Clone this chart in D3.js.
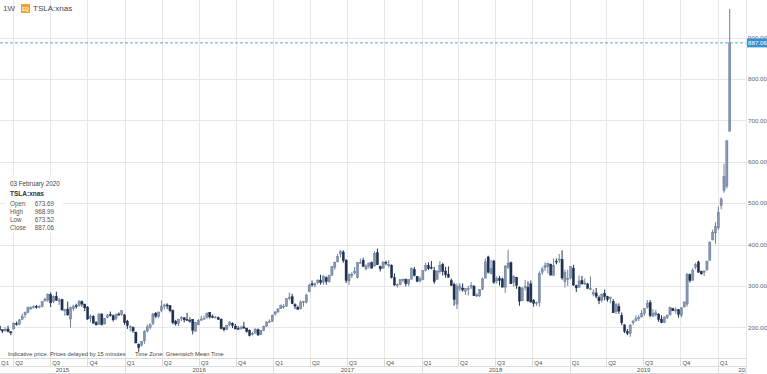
<!DOCTYPE html>
<html>
<head>
<meta charset="utf-8">
<script src="https://cdn.jsdelivr.net/npm/d3@7"></script>
<style>
  body { margin: 0; background: #fff; }
  svg { display: block; font-family: "Liberation Sans", Arial, sans-serif; }
</style>
</head>
<body>
<script>
// Weekly bars, first week starts Monday 2 March 2015
const firstWeek = "2015-03-02";
const symbol = "TSLA:xnas";
const interval = "1W";
const lastPrice = 887.06;
const priceTicks = [200, 300, 400, 500, 600, 700, 800, 900];

// [open, high, low, close] per week
const ohlc2015 = [
  [203,207,192,193],[194,195,186,191],[191,200,190,195],[196,204,188,190],[189,191,181,187],
  [196,212,195,210],[209,214,204,207],[207,220,205,218],[219,233,218,226],[230,238,223,236],
  [236,250,234,248],[247,251,242,247],[248,253,245,250],[251,254,245,250],[250,253,246,250],
  [250,263,248,262],[264,272,262,267],[266,282,261,280],[279,284,249,259],[262,277,258,274],
  [275,286,264,265],[263,271,254,266],[267,269,240,242],[240,245,228,242],[244,262,228,230],
  [220,250,199,248],[245,255,240,250],[252,257,245,250],[252,266,250,262],[262,265,250,256],
  [256,257,239,247],[249,251,218,220],[222,231,212,227],[227,229,209,210],[211,215,204,206],
  [207,234,206,232],[232,234,204,207],[208,223,207,221],[223,232,222,230],[231,238,226,228],
  [228,231,214,218],[221,234,217,230],[232,236,228,231],[231,241,228,240]
];
const ohlc2016 = [
  [230,232,206,211],[215,218,196,204],[201,205,190,202],[200,202,187,191],[188,190,162,162],
  [158,161,141,151],[157,167,154,166],[167,193,160,190],[191,207,187,201],[200,210,195,206],
  [209,235,205,232],[234,237,222,227],[226,238,222,237],[240,265,236,250],[251,257,243,254],
  [254,258,244,253],[253,254,236,240],[241,243,207,211],[215,218,204,208],[209,220,203,220],
  [221,227,215,223],[223,224,212,218],[219,235,216,218],[217,224,211,215],[219,220,183,193],
  [190,213,190,212],[206,220,205,216],[217,228,216,220],[221,228,219,222],[224,236,221,234],
  [236,237,221,225],[226,231,222,225],[225,227,222,225],[223,226,218,219],[220,221,195,197],
  [199,200,190,194],[195,206,193,205],[206,214,202,213],[210,212,198,204],[203,208,195,196],
  [197,203,194,196],[198,204,194,200],[201,213,197,198],[198,199,187,190],[193,195,178,180],
  [182,189,180,185],[186,197,185,196],[194,197,181,181],[182,193,181,193],[193,204,191,202],
  [202,214,202,213],[214,219,212,214]
];
const ohlc2017 = [
  [214,231,213,229],[232,239,228,237],[237,247,235,244],[245,255,244,252],[251,256,245,251],
  [251,270,249,269],[270,284,266,272],[274,281,256,257],[255,258,244,251],[248,252,243,243],
  [245,265,243,261],[261,264,250,263],[260,281,258,278],[286,305,285,302],[305,313,298,304],
  [302,308,297,305],[308,316,304,314],[314,327,303,308],[309,325,303,324],[320,323,303,310],
  [310,327,308,325],[326,347,324,347],[345,359,339,357],[358,377,357,371],[377,387,369,383],
  [382,386,356,361],[362,365,307,313],[312,330,302,327],[328,333,319,328],[331,346,328,335],
  [320,357,318,357],[357,366,354,357],[362,368,346,347],[341,352,338,348],[348,357,342,355],
  [356,359,342,343],[348,384,347,379],[380,390,350,351],[347,349,335,341],[343,360,341,356],
  [357,361,350,355],[351,362,344,351],[350,352,318,320],[320,330,300,302],[302,306,296,303],
  [303,316,301,315],[313,318,309,316],[315,318,299,306],[305,316,300,316],[316,344,316,343],
  [340,346,323,325],[323,324,309,311]
];
const ohlc2018 = [
  [312,323,308,317],[316,337,314,337],[338,356,335,350],[349,357,338,342],[345,360,340,343],
  [337,346,305,310],[316,338,315,335],[334,360,330,350],[352,356,325,335],[336,346,320,327],
  [328,347,320,321],[313,318,300,301],[304,308,252,267],[256,306,244,299],[294,307,287,300],
  [295,306,286,290],[287,294,278,294],[293,300,277,294],[297,309,292,301],[299,302,277,276],
  [277,283,273,278],[276,292,273,291],[292,320,290,317],[319,366,318,358],[370,373,330,333],
  [330,363,328,342],[360,363,305,309],[312,323,306,318],[318,324,301,313],[317,320,296,297],
  [297,350,283,348],[345,387,341,355],[356,359,305,305],[309,326,298,322],[321,322,293,301],
  [297,299,252,263],[264,297,263,295],[297,314,289,299],[297,311,261,264],[305,313,260,261],
  [265,268,250,258],[259,262,252,260],[260,335,250,330],[333,346,327,341],[344,357,336,350],
  [347,356,330,354],[352,354,326,326],[325,366,325,350],[360,366,352,358],[363,377,355,365],
  [364,386,315,319],[310,339,296,333]
];
const ohlc2019 = [
  [316,339,300,318],[319,348,316,347],[343,351,300,302],[301,303,285,295],[297,325,295,312],
  [313,324,303,305],[306,318,302,307],[305,307,292,294],[294,323,290,294],[280,292,275,284],
  [283,295,270,275],[272,277,256,264],[266,282,260,279],[282,291,265,274],[274,276,262,267],
  [270,274,258,273],[263,268,235,235],[238,259,232,255],[250,258,232,239],[228,236,205,211],
  [206,207,186,190],[190,196,181,185],[185,208,177,205],[211,218,206,214],[216,229,214,221],
  [223,230,215,224],[225,242,224,234],[233,246,228,245],[248,266,245,258],[260,266,224,228],
  [227,244,225,234],[230,242,226,235],[232,234,213,219],[220,229,210,211],[211,226,211,225],
  [224,231,220,229],[230,250,229,248],[246,247,239,240],[240,248,233,242],[243,244,223,231],
  [229,249,224,247],[249,263,248,261],[256,331,250,328],[328,330,308,313],[314,343,312,337],
  [345,356,340,352],[358,361,332,333],[335,337,327,329],[333,338,324,336],[339,361,336,359],
  [362,408,361,405],[411,436,410,430],[428,454,402,443]
];
const ohlc2020 = [
  [440,492,435,478],[494,514,485,510],[530,595,525,565],[541,653,535,650],
  [673.69,968.99,673.52,887.06]
];

const W = 767, H = 374;
const plotR = 746, plotB = 358;

const rows = [].concat(ohlc2015, ohlc2016, ohlc2017, ohlc2018, ohlc2019, ohlc2020);
const start = d3.timeParse("%Y-%m-%d")(firstWeek);
const bars = rows.map((r, i) => ({
  date: d3.timeWeek.offset(start, i),
  open: r[0], high: r[1], low: r[2], close: r[3]
}));

const svg = d3.select("body").append("svg")
  .attr("width", W)
  .attr("height", H);

const x = d3.scaleTime()
  .domain([new Date(2015, 3, 1), new Date(2020, 0, 1)])
  .range([13.2, 717.8]);
const y = d3.scaleLinear()
  .domain([200, 900])
  .range([327.3, 37.5]);

const defs = svg.append("defs");
defs.append("clipPath").attr("id", "plot")
  .append("rect").attr("x", 0).attr("y", 0).attr("width", plotR).attr("height", plotB);
defs.append("clipPath").attr("id", "yearrow")
  .append("rect").attr("x", 0).attr("y", 360).attr("width", plotR).attr("height", 14);

// quarter boundaries
const quarters = d3.timeMonth.every(3).range(new Date(2015, 0, 1), new Date(2020, 3, 1));
const innerQuarters = quarters.filter(d => x(d) > 0 && x(d) < plotR);

// horizontal grid
svg.selectAll(".hgrid")
  .data(priceTicks)
  .enter()
  .append("line")
  .attr("x1", 0).attr("x2", plotR)
  .attr("y1", d => Math.round(y(d)) + 0.5)
  .attr("y2", d => Math.round(y(d)) + 0.5)
  .style("stroke", "#e4e7eb");

// vertical grid at quarter starts
svg.selectAll(".vgrid")
  .data(innerQuarters)
  .enter()
  .append("line")
  .attr("x1", d => Math.round(x(d)) + 0.5)
  .attr("x2", d => Math.round(x(d)) + 0.5)
  .attr("y1", 0).attr("y2", plotB)
  .style("stroke", "#e4e7eb");

// right border of plot
svg.append("line")
  .attr("x1", plotR + 0.5).attr("x2", plotR + 0.5)
  .attr("y1", 0).attr("y2", H)
  .style("stroke", "#e4e7eb");

// candles
const g = svg.append("g").attr("clip-path", "url(#plot)");
const bw = 2.2;
const up = d => d.close >= d.open;

g.selectAll(".wick")
  .data(bars)
  .enter()
  .append("line")
  .attr("x1", d => x(d.date) - 1.5)
  .attr("x2", d => x(d.date) - 1.5)
  .attr("y1", d => y(d.high))
  .attr("y2", d => y(d.low))
  .style("stroke", d => up(d) ? "#6d809d" : "#1f3150")
  .style("stroke-width", 1);

g.selectAll(".body")
  .data(bars)
  .enter()
  .append("rect")
  .attr("x", d => x(d.date) - 1.5 - bw / 2)
  .attr("width", bw)
  .attr("y", d => y(Math.max(d.open, d.close)))
  .attr("height", d => Math.max(1, Math.abs(y(d.open) - y(d.close))))
  .style("fill", d => up(d) ? "#8496b0" : "#1f3150")
  .style("stroke", d => up(d) ? "#5f7393" : "#1f3150")
  .style("stroke-width", 0.4);

// last price line
svg.append("line")
  .attr("x1", 0).attr("x2", plotR)
  .attr("y1", y(lastPrice)).attr("y2", y(lastPrice))
  .style("stroke", "#5aa9dd")
  .style("stroke-dasharray", "3,2");

// price labels
svg.selectAll(".plabel")
  .data(priceTicks)
  .enter()
  .append("text")
  .attr("x", 748)
  .attr("y", d => y(d) + 2.2)
  .style("font-size", "6.2px")
  .style("fill", "#666")
  .text(d => d3.format(".2f")(d));

svg.append("rect")
  .attr("x", 747).attr("y", y(lastPrice) - 4.5)
  .attr("width", 20).attr("height", 9)
  .style("fill", "#3b8fd1");
svg.append("text")
  .attr("x", 748).attr("y", y(lastPrice) + 2.2)
  .style("font-size", "6.2px")
  .style("fill", "#fff")
  .text(d3.format(".2f")(lastPrice));

// header
svg.append("text").attr("x", 3).attr("y", 11)
  .style("font-size", "8px").style("fill", "#555").text(interval);
svg.append("rect").attr("x", 21).attr("y", 4).attr("width", 9).attr("height", 9)
  .style("fill", "#f0a22e");
svg.append("text").attr("x", 25.5).attr("y", 10.5).attr("text-anchor", "middle")
  .style("font-size", "4.5px").style("font-weight", "bold").style("fill", "#fff").text("EQ");
svg.append("text").attr("x", 33).attr("y", 11)
  .style("font-size", "8px").style("fill", "#444").text(symbol);

// info box for last bar
const last = bars[bars.length - 1];
svg.append("rect").attr("x", 5).attr("y", 175).attr("width", 58).attr("height", 58)
  .style("fill", "#fff");
svg.append("text").attr("x", 10).attr("y", 185.5)
  .style("font-size", "6.3px").style("fill", "#444")
  .text(d3.timeFormat("%d %B %Y")(last.date));
svg.append("text").attr("x", 10).attr("y", 196)
  .style("font-size", "6.5px").style("font-weight", "bold").style("fill", "#333")
  .text(symbol);
const info = [["Open", last.open], ["High", last.high], ["Low", last.low], ["Close", last.close]];
info.forEach((d, i) => {
  svg.append("text").attr("x", 10).attr("y", 205.5 + i * 8.3)
    .style("font-size", "6.3px").style("fill", "#555").text(d[0]);
  svg.append("text").attr("x", 54).attr("y", 205.5 + i * 8.3).attr("text-anchor", "end")
    .style("font-size", "6.3px").style("fill", "#555").text(d3.format(".2f")(d[1]));
});

// footer note
svg.append("text").attr("x", 8).attr("y", 356)
  .style("font-size", "5.8px").style("fill", "#444")
  .text("Indicative price. Prices delayed by 15 minutes");
svg.append("text").attr("x", 135).attr("y", 356)
  .style("font-size", "5.8px").style("fill", "#444")
  .text("Time Zone: Greenwich Mean Time");

// time axis rows
[plotB, 366, 373].forEach(yy => {
  svg.append("line").attr("x1", 0).attr("x2", plotR).attr("y1", yy + 0.5).attr("y2", yy + 0.5)
    .style("stroke", "#dcdcdc");
});

svg.selectAll(".qsep")
  .data(innerQuarters)
  .enter()
  .append("line")
  .attr("x1", d => Math.round(x(d)) + 0.5)
  .attr("x2", d => Math.round(x(d)) + 0.5)
  .attr("y1", plotB).attr("y2", 366)
  .style("stroke", "#dcdcdc");

svg.selectAll(".qlabel")
  .data(quarters.filter(d => x(d) < plotR - 10))
  .enter()
  .append("text")
  .attr("x", d => Math.max(1, x(d) + 2))
  .attr("y", 364.5)
  .style("font-size", "6px")
  .style("fill", "#555")
  .text(d => "Q" + (Math.floor(d.getMonth() / 3) + 1));

const years = d3.range(2015, 2021);
svg.selectAll(".ysep")
  .data(years.map(yr => new Date(yr, 0, 1)).filter(d => x(d) > 0 && x(d) < plotR))
  .enter()
  .append("line")
  .attr("x1", d => Math.round(x(d)) + 0.5)
  .attr("x2", d => Math.round(x(d)) + 0.5)
  .attr("y1", 366).attr("y2", H)
  .style("stroke", "#dcdcdc");

svg.append("g").attr("clip-path", "url(#yearrow)")
  .selectAll(".ylabel")
  .data(years)
  .enter()
  .append("text")
  .attr("x", yr => {
    const a = Math.max(0, x(new Date(yr, 0, 1)));
    const b = Math.min(W + 5, x(new Date(yr + 1, 0, 1)));
    return (a + b) / 2;
  })
  .attr("y", 372)
  .attr("text-anchor", "middle")
  .style("font-size", "6px")
  .style("fill", "#555")
  .text(yr => yr);
</script>
</body>
</html>
